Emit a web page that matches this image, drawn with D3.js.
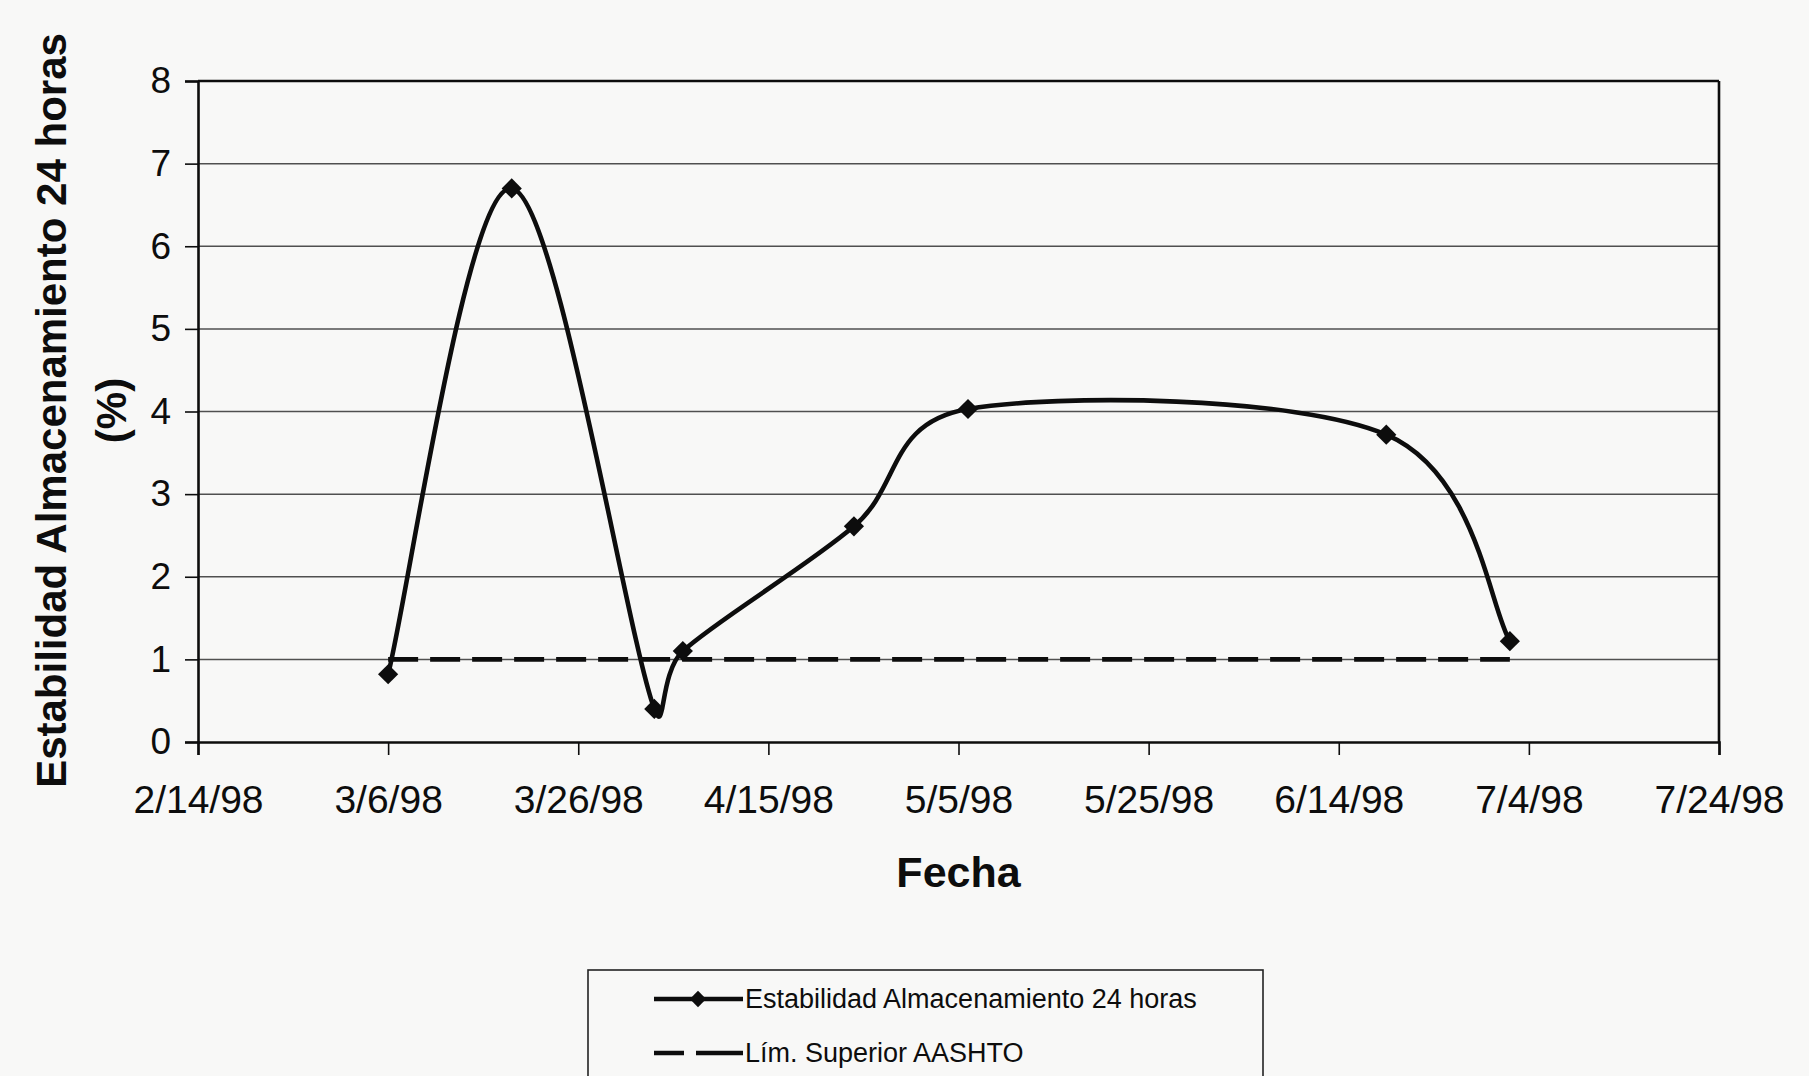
<!DOCTYPE html>
<html>
<head>
<meta charset="utf-8">
<script src="https://cdn.jsdelivr.net/npm/d3@7"></script>
<style>
  html, body { margin: 0; padding: 0; background: #f8f8f7; }
  svg { display: block; font-family: "Liberation Sans", Arial, sans-serif; }
</style>
</head>
<body>
<svg id="chart" width="1809" height="1076"></svg>
<script>
// ---- data ----
const dates = ["1998-03-06", "1998-03-19", "1998-04-03", "1998-04-06", "1998-04-24", "1998-05-06", "1998-06-19", "1998-07-02"];
const estabilidad = [0.82, 6.7, 0.4, 1.1, 2.61, 4.03, 3.72, 1.22];
const limiteDates = ["1998-03-06", "1998-07-02"];
const limiteValues = [1, 1];
const xTickDates = ["1998-02-14", "1998-03-06", "1998-03-26", "1998-04-15", "1998-05-05", "1998-05-25", "1998-06-14", "1998-07-04", "1998-07-24"];
const xTickLabels = ["2/14/98", "3/6/98", "3/26/98", "4/15/98", "5/5/98", "5/25/98", "6/14/98", "7/4/98", "7/24/98"];
const yTicks = [0, 1, 2, 3, 4, 5, 6, 7, 8];
const seriesNames = ["Estabilidad Almacenamiento 24 horas", "Lím. Superior AASHTO"];
const yTitle = ["Estabilidad Almacenamiento 24 horas", "(%)"];
const xTitle = "Fecha";

// ---- layout ----
const parse = d3.utcParse("%Y-%m-%d");
const L = 198, R = 1719, T = 81, B = 742;
const svg = d3.select("#chart");
const ink = "#0d0d0d";

const x = d3.scaleUtc().domain([parse(xTickDates[0]), parse(xTickDates[xTickDates.length - 1])]).range([L, R]);
const y = d3.scaleLinear().domain([0, 8]).range([B, T]);

// gridlines
svg.append("g").selectAll("line").data(yTicks.filter(d => d > 0 && d < 8)).join("line")
  .attr("x1", L).attr("x2", R).attr("y1", d => y(d)).attr("y2", d => y(d))
  .attr("stroke", "#505050").attr("stroke-width", 1.5);

// plot border top/right
svg.append("line").attr("x1", L).attr("x2", R).attr("y1", T).attr("y2", T).attr("stroke", ink).attr("stroke-width", 2.6);
svg.append("line").attr("x1", R).attr("x2", R).attr("y1", T).attr("y2", B).attr("stroke", ink).attr("stroke-width", 2.6);

// y axis
const yAxis = d3.axisLeft(y).tickValues(yTicks).tickSize(13).tickPadding(14).tickFormat(d3.format("d"));
const gy = svg.append("g").attr("transform", `translate(${L},0)`).call(yAxis);
gy.select(".domain").attr("stroke", ink).attr("stroke-width", 2.6);
gy.selectAll(".tick line").attr("stroke", ink).attr("stroke-width", 1.6);
gy.selectAll(".tick text").attr("font-size", 37).attr("fill", ink)
  .attr("font-family", "'Liberation Sans', Arial, sans-serif");

// x axis
const xAxis = d3.axisBottom(x).tickValues(xTickDates.map(parse)).tickSize(13).tickPadding(30)
  .tickFormat((d, i) => xTickLabels[i]);
const gx = svg.append("g").attr("transform", `translate(0,${B})`).call(xAxis);
gx.select(".domain").attr("stroke", ink).attr("stroke-width", 2.6);
gx.selectAll(".tick line").attr("stroke", ink).attr("stroke-width", 1.6);
gx.selectAll(".tick text").attr("font-size", 39).attr("fill", ink)
  .attr("font-family", "'Liberation Sans', Arial, sans-serif");

// titles
svg.append("text").attr("x", (L + R) / 2).attr("y", 887).attr("text-anchor", "middle")
  .attr("font-size", 43).attr("font-weight", "bold").attr("fill", ink).text(xTitle);
const ty = svg.append("g").attr("transform", `translate(0,${(T + B) / 2 - 1}) rotate(-90)`);
ty.append("text").attr("x", 0).attr("y", 66).attr("text-anchor", "middle")
  .attr("font-size", 42).attr("font-weight", "bold").attr("fill", ink).text(yTitle[0]);
ty.append("text").attr("x", 0).attr("y", 126).attr("text-anchor", "middle")
  .attr("font-size", 42).attr("font-weight", "bold").attr("fill", ink).text(yTitle[1]);

// limit dashed line
const limPts = limiteDates.map((d, i) => [x(parse(d)), y(limiteValues[i])]);
svg.append("path").attr("d", d3.line()(limPts)).attr("fill", "none")
  .attr("stroke", ink).attr("stroke-width", 4.6).attr("stroke-dasharray", "30,12");

// Excel-like smoothed line
function excelSmooth(pts) {
  const p = d3.path();
  p.moveTo(pts[0][0], pts[0][1]);
  const n = pts.length;
  for (let i = 0; i < n - 1; i++) {
    const p0 = pts[Math.max(0, i - 1)], p1 = pts[i], p2 = pts[i + 1], p3 = pts[Math.min(n - 1, i + 2)];
    const seg = Math.hypot(p2[0] - p1[0], p2[1] - p1[1]);
    let t1 = [(p2[0] - p0[0]) / 6, (p2[1] - p0[1]) / 6];
    let t2 = [(p3[0] - p1[0]) / 6, (p3[1] - p1[1]) / 6];
    const l1 = Math.hypot(t1[0], t1[1]), l2 = Math.hypot(t2[0], t2[1]);
    if (l1 > seg / 2) { const k = seg / 2 / l1; t1 = [t1[0] * k, t1[1] * k]; }
    if (l2 > seg / 2) { const k = seg / 2 / l2; t2 = [t2[0] * k, t2[1] * k]; }
    p.bezierCurveTo(p1[0] + t1[0], p1[1] + t1[1], p2[0] - t2[0], p2[1] - t2[1], p2[0], p2[1]);
  }
  return p.toString();
}
const pts = dates.map((d, i) => [x(parse(d)), y(estabilidad[i])]);
svg.append("path").attr("d", excelSmooth(pts)).attr("fill", "none")
  .attr("stroke", ink).attr("stroke-width", 4.6).attr("stroke-linejoin", "round");

const diamond = d3.symbol().type(d3.symbolDiamond2).size(260);
svg.append("g").selectAll("path").data(pts).join("path")
  .attr("transform", d => `translate(${d[0]},${d[1]})`)
  .attr("d", diamond).attr("fill", ink);

// legend
const lg = svg.append("g");
lg.append("rect").attr("x", 588).attr("y", 970).attr("width", 675).attr("height", 140)
  .attr("fill", "none").attr("stroke", "#222").attr("stroke-width", 1.6);
lg.append("line").attr("x1", 654).attr("x2", 743).attr("y1", 999).attr("y2", 999)
  .attr("stroke", ink).attr("stroke-width", 4.4);
lg.append("path").attr("transform", "translate(698,999)").attr("d", d3.symbol().type(d3.symbolDiamond2).size(170)).attr("fill", ink);
lg.append("text").attr("x", 745).attr("y", 1008).attr("font-size", 27).attr("fill", ink)
  .text(seriesNames[0]);
lg.append("line").attr("x1", 654).attr("x2", 743).attr("y1", 1053).attr("y2", 1053)
  .attr("stroke", ink).attr("stroke-width", 4.4).attr("stroke-dasharray", "30,12,47");
lg.append("text").attr("x", 745).attr("y", 1062).attr("font-size", 27).attr("fill", ink)
  .text(seriesNames[1]);
</script>
</body>
</html>
